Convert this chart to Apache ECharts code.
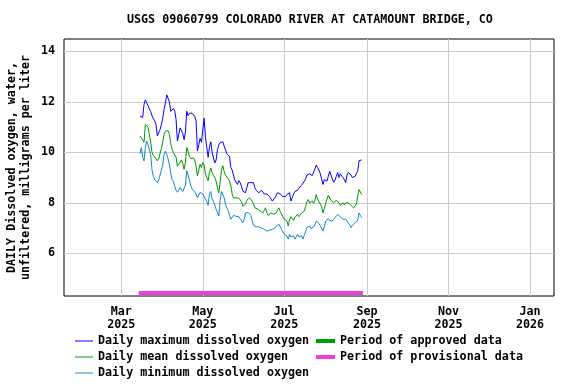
<!DOCTYPE html>
<html>
<head>
<meta charset="utf-8">
<script src="https://cdn.jsdelivr.net/npm/echarts@6/dist/echarts.min.js"></script>
<style>
  html, body { margin: 0; padding: 0; background: #fff; }
  #chart { width: 576px; height: 384px; }
</style>
</head>
<body>
<div id="chart"></div>
<script>
// daily values, one per day from startDate
var startDate = '2025-03-15'
var dailyMax = [
  11.44, 11.5, 11.38, 11.9, 12.08, 12.05, 11.85, 11.72, 11.62, 11.45,
  11.33, 11.25, 11.1, 10.65, 10.6, 10.9, 11.1, 11.35, 11.7, 11.95,
  12.28, 12.32, 12.0, 11.62, 11.6, 11.74, 11.65, 11.3, 10.45, 10.7,
  10.97, 10.9, 10.75, 10.5, 10.8, 11.63, 11.45, 11.55, 11.6, 11.55,
  11.5, 11.42, 11.25, 10.05, 10.3, 10.55, 10.4, 10.9, 11.35, 10.6,
  10.2, 9.8, 10.2, 10.42, 10.0, 10.05, 9.58, 9.7, 10.1, 10.3,
  10.38, 10.35, 10.42, 10.25, 10.1, 9.95, 9.9, 9.84, 9.4, 9.3,
  9.1, 8.9, 8.86, 8.73, 8.88, 8.8, 8.65, 8.46, 8.45, 8.4,
  8.6, 8.8, 8.82, 8.8, 8.78, 8.8, 8.6, 8.5, 8.45, 8.4,
  8.45, 8.5, 8.45, 8.35, 8.3, 8.35, 8.3, 8.25, 8.2, 8.07,
  8.12, 8.2, 8.3, 8.4, 8.46, 8.35, 8.3, 8.25, 8.3, 8.25,
  8.33, 8.4, 8.4, 8.07, 8.2, 8.35, 8.45, 8.4, 8.5, 8.58,
  8.62, 8.7, 8.73, 8.85, 8.95, 9.1, 9.16, 9.15, 9.16, 9.08,
  9.1, 9.35, 9.5, 9.4, 9.3, 9.15, 8.95, 8.73, 8.92, 8.92,
  8.86, 9.05, 9.25, 9.2, 8.95, 8.82, 8.9, 9.05, 9.2, 9.0,
  9.15, 9.1, 9.0, 8.92, 8.8, 9.1, 9.2, 9.15, 9.1, 9.0,
  9.02, 9.05, 9.1, 9.25, 9.67, 9.7, 9.7
]
var dailyMean = [
  10.65, 10.72, 10.5, 10.4, 11.1, 11.15, 11.0, 10.7, 10.4, 10.0,
  9.88, 9.82, 9.75, 9.66, 9.75, 9.95, 10.15, 10.4, 10.72, 10.84,
  10.87, 10.86, 10.72, 10.35, 10.12, 9.99, 10.0, 9.8, 9.45, 9.5,
  9.6, 9.7, 9.55, 9.33, 9.6, 10.19, 10.05, 9.85, 9.75, 9.72,
  9.78, 9.7, 9.45, 9.07, 9.3, 9.53, 9.4, 9.6, 9.5, 9.15,
  9.0, 8.88, 9.2, 9.38, 9.2, 9.15, 8.99, 8.86, 8.6, 8.4,
  8.8, 9.3, 9.47, 9.25, 9.1, 9.05, 8.95, 8.86, 8.7, 8.35,
  8.2, 8.26, 8.2, 8.13, 8.18, 8.13, 8.05, 7.87, 7.8, 7.95,
  8.1, 8.13, 8.2, 8.18, 8.07, 7.95, 7.8, 7.74, 7.76, 7.72,
  7.68, 7.62, 7.6, 7.7, 7.8, 7.6, 7.5, 7.55, 7.6, 7.6,
  7.55, 7.5, 7.6, 7.72, 7.8, 7.65, 7.6, 7.45, 7.35, 7.3,
  7.28, 7.08, 7.35, 7.45, 7.4, 7.3, 7.42, 7.47, 7.55, 7.45,
  7.5, 7.6, 7.62, 7.67, 7.85, 8.05, 8.13, 8.0, 8.05, 8.07,
  7.98, 8.1, 8.33, 8.15, 8.05, 7.95, 7.85, 7.6, 7.78, 7.74,
  8.15, 8.3, 8.33, 8.1, 8.15, 8.0, 8.05, 8.1, 8.07, 8.0,
  7.9, 7.95, 8.0, 7.92, 8.0, 8.07, 8.0, 7.95, 7.9, 7.87,
  7.8, 7.85, 7.95, 8.0, 8.53, 8.46, 8.33
]
var dailyMin = [
  9.95, 10.19, 9.8, 9.66, 10.2, 10.45, 10.3, 10.1, 9.9, 9.3,
  9.05, 8.92, 8.87, 8.8, 8.9, 9.1, 9.3, 9.5, 9.92, 10.05,
  9.92, 9.75, 9.5, 9.2, 8.93, 8.85, 8.65, 8.5, 8.42, 8.5,
  8.6, 8.55, 8.45, 8.5, 8.7, 9.27, 9.1, 8.9, 8.7, 8.55,
  8.48, 8.45, 8.35, 8.2, 8.25, 8.41, 8.45, 8.35, 8.28, 8.15,
  8.05, 7.9, 8.35, 8.45, 8.15, 8.05, 7.92, 7.74, 7.62, 7.48,
  8.1, 8.45, 8.4, 8.2, 7.95, 7.8, 7.7, 7.5, 7.35, 7.4,
  7.5, 7.45, 7.47, 7.54, 7.45, 7.38, 7.3, 7.21, 7.35, 7.6,
  7.67, 7.62, 7.6, 7.5, 7.3, 7.1, 7.08, 7.05, 7.08, 7.05,
  7.02, 7.0, 6.98, 6.95, 6.98, 6.88, 6.95, 6.92, 6.98, 6.95,
  6.98, 7.0, 7.08, 7.12, 7.15, 7.05, 6.95, 6.85, 6.75, 6.72,
  6.69, 6.56, 6.75, 6.65, 6.72, 6.7, 6.56, 6.65, 6.75, 6.65,
  6.62, 6.7, 6.56, 6.72, 6.85, 7.02, 6.98, 7.08, 6.98, 7.02,
  7.05, 7.15, 7.28, 7.22, 7.18, 7.1, 7.0, 6.88, 7.05, 7.28,
  7.35, 7.38, 7.3, 7.32, 7.28, 7.35, 7.42, 7.47, 7.54, 7.6,
  7.45, 7.4, 7.35, 7.36, 7.35, 7.3, 7.2, 7.12, 7.02, 7.1,
  7.15, 7.22, 7.28, 7.3, 7.6, 7.5, 7.41
]
var provisionalPeriod = ['2025-03-14', '2025-08-29']
var provisionalLevel = 4.43
var xTickDates = ['2025-03-01', '2025-05-01', '2025-07-01', '2025-09-01', '2025-11-01', '2026-01-01']
var yTicks = [6, 8, 10, 12, 14]
var xRange = ['2025-01-17T02:00:00Z', '2026-01-19T00:00:00Z']
var yRange = [4.31, 14.49]

var MONTHS = ['Jan', 'Feb', 'Mar', 'Apr', 'May', 'Jun', 'Jul', 'Aug', 'Sep', 'Oct', 'Nov', 'Dec']
var DAY = 24 * 3600 * 1000
var FONT = 'DejaVu Sans Mono'

function toPairs (values) {
  var t0 = Date.parse(startDate)
  return values.map(function (v, i) { return [t0 + i * DAY, v] })
}

var chart = echarts.init(document.getElementById('chart'))
chart.setOption({
  animation: false,
  backgroundColor: '#fff',
  title: {
    text: 'USGS 09060799 COLORADO RIVER AT CATAMOUNT BRIDGE, CO',
    left: 127,
    top: 14,
    padding: 0,
    textStyle: {fontFamily: FONT, fontWeight: 'bold', fontSize: 11.7, color: '#000'}
  },
  grid: {
    left: 64, right: 22, top: 39, bottom: 88,
    containLabel: false,
    outerBoundsMode: 'none',
    show: true, borderColor: '#000', borderWidth: 1
  },
  legend: [
    {
      orient: 'vertical', left: 75, top: 334, padding: 0,
      itemGap: 2, itemWidth: 18, itemHeight: 1, icon: 'rect',
      textStyle: {fontFamily: FONT, fontWeight: 'bold', fontSize: 11.7, color: '#000', lineHeight: 14},
      data: ['Daily maximum dissolved oxygen', 'Daily mean dissolved oxygen', 'Daily minimum dissolved oxygen']
    },
    {
      orient: 'vertical', left: 316, top: 334, padding: 0,
      itemGap: 2, itemWidth: 19, itemHeight: 4, icon: 'rect',
      textStyle: {fontFamily: FONT, fontWeight: 'bold', fontSize: 11.7, color: '#000', lineHeight: 14},
      data: ['Period of approved data', 'Period of provisional data']
    }
  ],
  xAxis: {
    type: 'value',
    min: Date.parse(xRange[0]),
    max: Date.parse(xRange[1]),
    axisLine: {show: false},
    axisTick: {show: false, customValues: xTickDates.map(function (d) { return Date.parse(d) })},
    splitLine: {show: true, lineStyle: {color: '#cccccc', width: 1}},
    axisLabel: {
      customValues: xTickDates.map(function (d) { return Date.parse(d) }),
      margin: 9,
      fontFamily: FONT, fontWeight: 'bold', fontSize: 11.7, color: '#000', lineHeight: 13,
      formatter: function (v) {
        var d = new Date(v)
        return MONTHS[d.getUTCMonth()] + '\n' + d.getUTCFullYear()
      }
    }
  },
  yAxis: {
    type: 'value',
    min: yRange[0],
    max: yRange[1],
    name: 'DAILY Dissolved oxygen, water,\nunfiltered, milligrams per liter',
    nameLocation: 'middle',
    nameRotate: 90,
    nameGap: 31,
    nameMoveOverlap: false,
    nameTextStyle: {fontFamily: FONT, fontWeight: 'bold', fontSize: 11.7, color: '#000', lineHeight: 14},
    axisLine: {show: false},
    axisTick: {show: false, customValues: yTicks},
    splitLine: {show: true, lineStyle: {color: '#cccccc', width: 1}},
    axisLabel: {
      customValues: yTicks,
      margin: 9,
      fontFamily: FONT, fontWeight: 'bold', fontSize: 11.7, color: '#000'
    }
  },
  series: [
    {
      name: 'Daily maximum dissolved oxygen', type: 'line', symbol: 'none',
      color: '#0000ff', lineStyle: {width: 1}, data: toPairs(dailyMax)
    },
    {
      name: 'Daily mean dissolved oxygen', type: 'line', symbol: 'none',
      color: '#009900', lineStyle: {width: 1}, data: toPairs(dailyMean)
    },
    {
      name: 'Daily minimum dissolved oxygen', type: 'line', symbol: 'none',
      color: '#1188cc', lineStyle: {width: 1}, data: toPairs(dailyMin)
    },
    {
      name: 'Period of approved data', type: 'line', symbol: 'none',
      color: '#00a000', data: []
    },
    {
      name: 'Period of provisional data', type: 'line', symbol: 'none',
      color: '#ee40dd', lineStyle: {width: 4, cap: 'butt'},
      data: provisionalPeriod.map(function (d) { return [Date.parse(d), provisionalLevel] })
    }
  ]
})
</script>
</body>
</html>
